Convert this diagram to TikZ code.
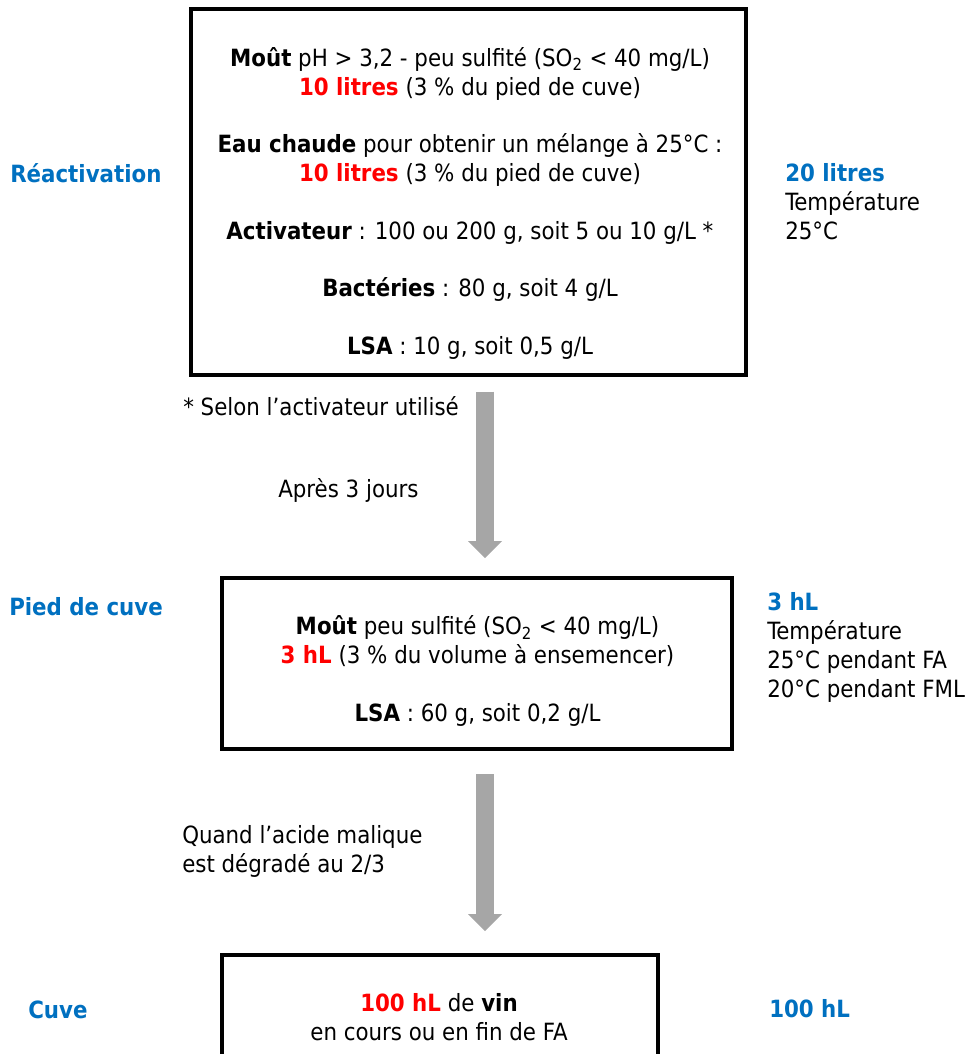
\documentclass[tikz,border=0pt]{standalone}
\usepackage{fontspec}
\setmainfont{DejaVu Sans Condensed}
\usetikzlibrary{arrows.meta}

\definecolor{bleutitre}{RGB}{0,112,192}
\definecolor{rougequant}{RGB}{255,0,0}
\definecolor{grisfleche}{RGB}{166,166,166}

\newcommand{\quantite}[1]{\textcolor{rougequant}{\textbf{#1}}}

\tikzset{
	etape/.style={draw, line width=3pt, inner sep=0pt},
	contenu/.style={align=center, inner sep=0pt, font=\fontsize{17.8}{21.6}\selectfont},
	titre/.style={anchor=west, inner sep=0pt, text=bleutitre, font=\fontsize{17.8}{21.6}\selectfont\bfseries},
	remarque/.style={anchor=west, align=left, inner sep=0pt, font=\fontsize{17.8}{21.6}\selectfont},
	fleche/.style={grisfleche, line width=13.2pt, -{Triangle[width=25.5pt, length=12.75pt, line width=0pt]}}
}

\begin{document}
\begin{tikzpicture}[x=0.75pt, y=-0.75pt]
		\useasboundingbox (0,0) rectangle (965,1054);
		\clip (0,0) rectangle (965,1054);

		% boites
		\node (reactivation) [etape, minimum width=416.8pt, minimum height=274.3pt] at (468.6,191.8) {};
		\node (piedcuve) [etape, minimum width=383.1pt, minimum height=128.25pt] at (476.9,663.5) {};
		\node (cuve) [etape, minimum width=327pt, minimum height=150pt] at (440,1055) {};

		\node (txtreactivation) [contenu] at (470,203.5) {
			\textbf{Moût} pH > 3,2 - peu sulfité (SO\textsubscript{2} < 40 mg/L)\\
			\quantite{10 litres} (3 \% du pied de cuve)\\[21.6pt]
			\textbf{Eau chaude} pour obtenir un mélange à 25°C :\\
			\quantite{10 litres} (3 \% du pied de cuve)\\[21.6pt]
			\textbf{Activateur} : 100 ou 200 g, soit 5 ou 10 g/L *\\[21.6pt]
			\textbf{Bactéries} : 80 g, soit 4 g/L\\[21.6pt]
			\textbf{LSA} : 10 g, soit 0,5 g/L
		};
		\node (txtpiedcuve) [contenu] at (477.5,671) {
			\textbf{Moût} peu sulfité (SO\textsubscript{2} < 40 mg/L)\\
			\quantite{3 hL} (3 \% du volume à ensemencer)\\[21.6pt]
			\textbf{LSA} : 60 g, soit 0,2 g/L
		};
		\node (txtcuve) [contenu] at (439,1017) {
			\quantite{100 hL} de \textbf{vin}\\
			en cours ou en fin de FA
		};

		% titres a gauche
		\node (titrereactivation) [titre] at (10,173) {Réactivation};
		\node (titrepiedcuve) [titre] at (9,607) {Pied de cuve};
		\node (titrecuve) [titre] at (28,1010) {Cuve};

		% volumes a droite
		\node (volreactivation) [remarque] at (785,201.5) {
			\textcolor{bleutitre}{\textbf{20 litres}}\\
			Température\\
			25°C
		};
		\node (volpiedcuve) [remarque] at (767,647.5) {
			\textcolor{bleutitre}{\textbf{3 hL}}\\
			Température\\
			25°C pendant FA\\
			20°C pendant FML
		};
		\node (volcuve) [remarque] at (769,1009) {\textcolor{bleutitre}{\textbf{100 hL}}};

		% notes et fleches
		\node (renvoi) [remarque] at (183,406) {* Selon l’activateur utilisé};
		\node (delai) [remarque] at (278,490) {Après 3 jours};
		\node (condition) [remarque] at (182,851.5) {
			Quand l’acide malique\\
			est dégradé au 2/3
		};

		\coordinate (axe) at (485,0);
		\draw [fleche, shorten <=11.25pt, shorten >=13.5pt] (axe |- reactivation.south) -- (axe |- piedcuve.north);
		\draw [fleche, shorten <=17.5pt, shorten >=16.5pt] (axe |- piedcuve.south) -- (axe |- cuve.north);
	\end{tikzpicture}
\end{document}
